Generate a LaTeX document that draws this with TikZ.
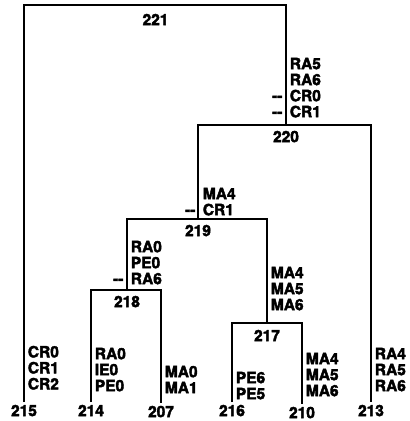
\documentclass[tikz,border=0pt]{standalone}
\usepackage{fontspec}
\usetikzlibrary{positioning}
\newfontfamily\labfont{TeX Gyre Heros}[BoldFeatures={FakeBold=2.5}]
\newcommand\mn{\llap{--\hspace{7.5pt}}}

\begin{document}
\begin{tikzpicture}[x=1pt, y=-1pt, line width=1.8pt, node distance=5pt,
    lbl/.style={font=\labfont\bfseries\fontsize{15.5}{16}\selectfont, inner sep=0pt},
    leaf/.style={lbl, anchor=north, inner ysep=2pt},
    chars/.style={lbl, anchor=north west, align=left, inner xsep=3pt}]
    \useasboundingbox (0,0) rectangle (410,421);

    % leaves
    \node[leaf] (S215) at (24,402) {215};
    \node[leaf] (S214) at (91,402) {214};
    \node[leaf] (S207) at (161,403) {207};
    \node[leaf] (S216) at (232,402) {216};
    \node[leaf] (S210) at (302,404) {210};
    \node[leaf] (S213) at (371,402) {213};

    % junctions
    \coordinate (J221) at (155.5,5);
    \coordinate (J220) at (286,125);
    \coordinate (J219) at (198,219);
    \coordinate (J218) at (127,290);
    \coordinate (J217) at (267,323);
    \node[lbl, below=8pt of J221] (S221) {221};
    \node[lbl, below=of J220] (S220) {220};
    \node[lbl, below=of J219] (S219) {219};
    \node[lbl, below=of J218] (S218) {218};
    \node[lbl, below=6pt of J217] (S217) {217};

    \draw (S215.north) |- (J221) -| (J220);
    \draw (J219) |- (J220) -| (S213.north);
    \draw (J218) |- (J219) -| (J217);
    \draw (S214.north) |- (J218) -| (S207.north);
    \draw (S216.north) |- (J217) -| (S210.north);

    % characters on the branches
    \node[chars] (B220) at (286,57) {RA5\\RA6\\\mn CR0\\\mn CR1};
    \node[chars] (B219) at (199,187) {MA4\\\mn CR1};
    \node[chars] (B218) at (127,240) {RA0\\PE0\\\mn RA6};
    \node[chars] (B217) at (267,266) {MA4\\MA5\\MA6};
    \node[chars] (B215) at (24,345) {CR0\\CR1\\CR2};
    \node[chars] (B214) at (91,347) {RA0\\IE0\\PE0};
    \node[chars] (B207) at (161,365) {MA0\\MA1};
    \node[chars] (B216) at (232,371) {PE6\\PE5};
    \node[chars] (B210) at (302,352) {MA4\\MA5\\MA6};
    \node[chars] (B213) at (371,347) {RA4\\RA5\\RA6};
\end{tikzpicture}
\end{document}
